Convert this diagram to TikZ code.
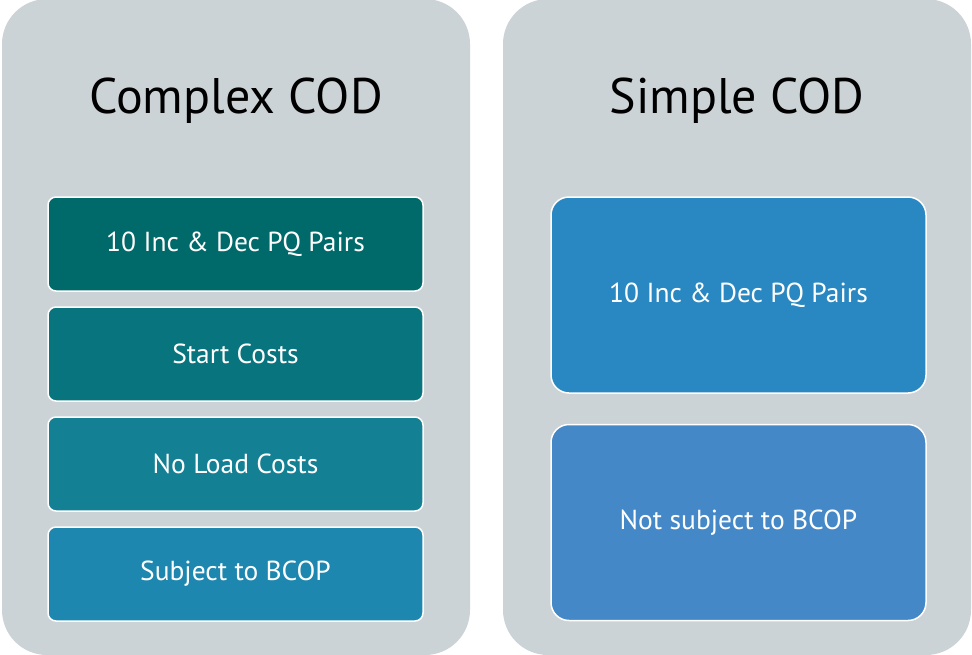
\documentclass[tikz,border=0pt]{standalone}
\usepackage{fontspec}
\setmainfont{PT Sans}
\usetikzlibrary{positioning}
\definecolor{panelgray}{HTML}{CBD3D6}
\definecolor{tealA}{HTML}{00696A}
\definecolor{tealB}{HTML}{08747E}
\definecolor{tealC}{HTML}{138094}
\definecolor{tealD}{HTML}{1D87AF}
\definecolor{blueA}{HTML}{2988C1}
\definecolor{blueB}{HTML}{4488C8}
\begin{document}
\begin{tikzpicture}[x=1pt, y=-1pt,
  panel/.style={rectangle, fill=panelgray, rounded corners=45pt, minimum width=468pt,
                minimum height=656pt, inner sep=0pt},
  heading/.style={font=\fontsize{50}{56}\selectfont},
  item/.style={rectangle, draw=white, line width=1.5pt, rounded corners=8pt, text=white,
               minimum width=375pt, minimum height=94pt, font=\fontsize{27.5}{32}\selectfont},
  bigitem/.style={item, rounded corners=18pt, minimum height=196pt}
]
  \useasboundingbox (0,0) rectangle (972,654);
  \node[panel] (complex) at (236,327) {};
  \node[panel] (simple)  at (737,327) {};
  \node[heading] (complexttl) at (236,101) {Complex COD};
  \node[heading] (simplettl)  at (737,101) {Simple COD};
  % complex side
  \node[item, fill=tealA] (cpairs) at (235.5,244) {10 Inc \& Dec PQ Pairs};
  \node[item, fill=tealB, below=14.5pt of cpairs] (cstart)  {Start Costs};
  \node[item, fill=tealC, below=14.5pt of cstart] (cnoload) {No Load Costs};
  \node[item, fill=tealD, below=14.5pt of cnoload] (cbcop) {Subject to BCOP};
  % simple side
  \node[bigitem, fill=blueA] (spairs) at (738.5,295) {10 Inc \& Dec PQ Pairs};
  \node[bigitem, fill=blueB, below=30pt of spairs] (sbcop) {Not subject to BCOP};
\end{tikzpicture}
\end{document}
